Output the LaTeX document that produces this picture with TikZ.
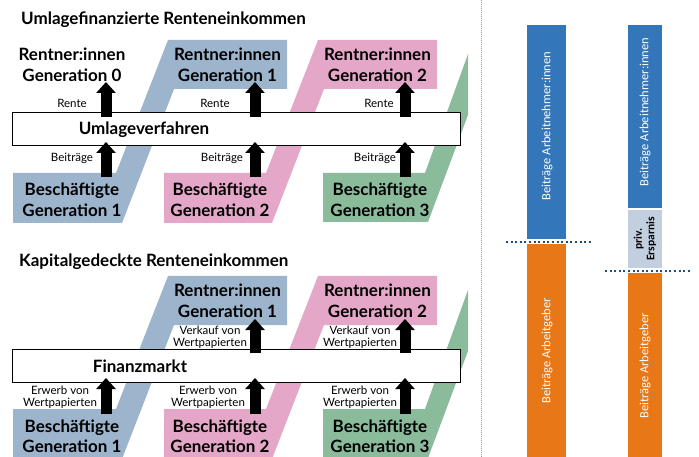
\documentclass[tikz,border=0pt]{standalone}
\usepackage{fontspec}
\setmainfont{Lato}
\newfontfamily\barfont{Carlito}
\usetikzlibrary{arrows.meta}
\definecolor{bandblue}{HTML}{9DB4CD}
\definecolor{bandpink}{HTML}{E5A7C7}
\definecolor{bandgreen}{HTML}{8ABC9C}
\definecolor{barblue}{HTML}{3476BA}
\definecolor{barorange}{HTML}{E87718}
\definecolor{barpriv}{HTML}{C1CFDF}
\definecolor{dotnavy}{HTML}{1F4E79}
\tikzset{
  mainbox/.style={draw=black, fill=white, line width=1pt, inner sep=0, minimum width=448pt, minimum height=33pt},
  biglbl/.style={font=\fontsize{17}{20.5}\selectfont\bfseries, align=center, inner sep=0},
  titlelbl/.style={font=\fontsize{17}{20}\selectfont\bfseries, inner sep=0, anchor=base west},
  smalllbl/.style={font=\fontsize{11.5}{11.5}\selectfont, align=center, inner sep=0},
  flow/.style={line width=11pt, -{Triangle[width=19pt,length=11pt]}},
  bartext/.style={font=\barfont\fontsize{12.5}{14}\selectfont, text=white, rotate=90, inner sep=0},
  privtext/.style={font=\barfont\bfseries\fontsize{11.5}{12.5}\selectfont, text=black, rotate=90, align=center, inner sep=0},
  navydots/.style={dotnavy, line width=2pt, dash pattern=on 2pt off 2.6pt},
}
\begin{document}
\begin{tikzpicture}[x=1pt, y=-1pt]
\useasboundingbox (0,0) rectangle (699,457);

% ---------- upper section: bands ----------
\fill[bandblue] (13,173) -- (116,173) -- (168,40) -- (287,40) -- (287,89) -- (174,89) -- (122,223) -- (13,223) -- cycle;
\fill[bandpink] (164,173) -- (266,173) -- (318,40) -- (437,40) -- (437,89) -- (324,89) -- (272,223) -- (164,223) -- cycle;
\fill[bandgreen] (323,173) -- (425,173) -- (468,54) -- (468,115) -- (428,222) -- (323,222) -- cycle;

% ---------- lower section: bands ----------
\fill[bandblue] (13,409) -- (116,409) -- (168,276) -- (287,276) -- (287,325) -- (174,325) -- (122,459) -- (13,459) -- cycle;
\fill[bandpink] (164,409) -- (266,409) -- (318,276) -- (437,276) -- (437,325) -- (324,325) -- (272,459) -- (164,459) -- cycle;
\fill[bandgreen] (323,409) -- (425,409) -- (468,290) -- (468,351) -- (428,458) -- (323,458) -- cycle;

% ---------- boxes ----------
\node[mainbox] (umlage) at (236,129.5) {};
\node[mainbox] (finanz) at (236,365.5) {};

% ---------- titles ----------
\node[titlelbl] (t1) at (21,25) {Umlagefinanzierte Renteneinkommen};
\node[titlelbl] (t2) at (19,266) {Kapitalgedeckte Renteneinkommen};

% ---------- upper texts ----------
\node[biglbl] (r0) at (72,65) {Rentner:innen\\Generation 0};
\node[biglbl] (r1) at (227.5,65) {Rentner:innen\\Generation 1};
\node[biglbl] (r2) at (377.5,65) {Rentner:innen\\Generation 2};
\node[biglbl] (b1) at (72,200) {Beschäftigte\\Generation 1};
\node[biglbl] (b2) at (220,200) {Beschäftigte\\Generation 2};
\node[biglbl] (b3) at (380,200) {Beschäftigte\\Generation 3};
\node[biglbl] (ut) at (144,130) {Umlageverfahren};

\node[smalllbl] (re1) at (72,103) {Rente};
\node[smalllbl] (re2) at (215,103) {Rente};
\node[smalllbl] (re3) at (379,103) {Rente};
\node[smalllbl] (be1) at (72,158) {Beiträge};
\node[smalllbl] (be2) at (222,158) {Beiträge};
\node[smalllbl] (be3) at (375,158) {Beiträge};

% ---------- lower texts ----------
\node[biglbl] (lr1) at (227.5,301) {Rentner:innen\\Generation 1};
\node[biglbl] (lr2) at (377.5,301) {Rentner:innen\\Generation 2};
\node[biglbl] (lb1) at (72,436) {Beschäftigte\\Generation 1};
\node[biglbl] (lb2) at (220,436) {Beschäftigte\\Generation 2};
\node[biglbl] (lb3) at (380,436) {Beschäftigte\\Generation 3};
\node[biglbl] (ft) at (140,366) {Finanzmarkt};

\node[smalllbl] (vk1) at (210,337.5) {Verkauf von\\Wertpapierten};
\node[smalllbl] (vk2) at (360,337.5) {Verkauf von\\Wertpapierten};
\node[smalllbl] (ew1) at (60,397.5) {Erwerb von\\Wertpapierten};
\node[smalllbl] (ew2) at (208,397.5) {Erwerb von\\Wertpapierten};
\node[smalllbl] (ew3) at (360,397.5) {Erwerb von\\Wertpapierten};

% ---------- arrows ----------
\foreach \ax/\n in {106/1,255/2,405/3}{
  \coordinate (ub\n) at (\ax,177);
  \coordinate (ut\n) at (\ax,142);
  \coordinate (uu\n) at (\ax,117);
  \coordinate (uv\n) at (\ax,82);
  \coordinate (lb\n s) at (\ax,414);
  \coordinate (lb\n e) at (\ax,378);
}
\foreach \n in {1,2,3}{
  \draw[flow] (ub\n) -- (ut\n);
  \draw[flow] (uu\n) -- (uv\n);
  \draw[flow] (lb\n s) -- (lb\n e);
}
\coordinate (lu2) at (255,353);
\coordinate (lv2) at (255,319);
\coordinate (lu3) at (405,353);
\coordinate (lv3) at (405,319);
\draw[flow] (lu2) -- (lv2);
\draw[flow] (lu3) -- (lv3);

% ---------- separator ----------
\coordinate (sepT) at (481.5,0);
\coordinate (sepB) at (481.5,457);
\draw[gray!80, line width=1.3pt, dash pattern=on 1pt off 1pt] (sepT) -- (sepB);

% ---------- right bars ----------
\fill[barblue] (527,25) rectangle (566,239);
\fill[barorange] (527,244) rectangle (566,457);
\fill[barblue] (628,25) rectangle (662,208);
\fill[barpriv] (628,210) rectangle (662,268);
\fill[barorange] (628,273) rectangle (662,457);

\node[bartext] (an1) at (547,126) {Beiträge Arbeitnehmer:innen};
\node[bartext] (ag1) at (547,351) {Beiträge Arbeitgeber};
\node[bartext] (an2) at (645,112) {Beiträge Arbeitnehmer:innen};
\node[bartext] (ag2) at (645,366) {Beiträge Arbeitgeber};
\node[privtext] (pv) at (645,239) {priv.\\Ersparnis};

\coordinate (d1a) at (506,242);
\coordinate (d1b) at (593,242);
\coordinate (d2a) at (605,271);
\coordinate (d2b) at (692,271);
\draw[navydots] (d1a) -- (d1b);
\draw[navydots] (d2a) -- (d2b);
\end{tikzpicture}
\end{document}
